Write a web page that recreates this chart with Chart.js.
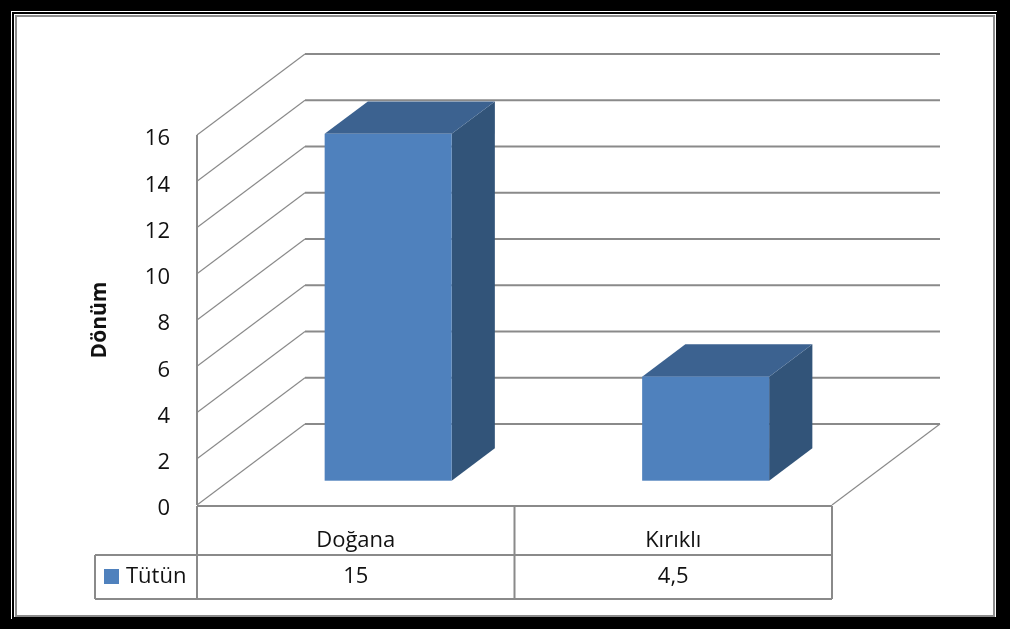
<!DOCTYPE html>
<html>
<head>
<meta charset="utf-8">
<title>Tütün</title>
<style>
  html, body { margin: 0; padding: 0; background: #000; }
  #wrap { width: 1010px; height: 629px; }
</style>
<script src="https://cdn.jsdelivr.net/npm/chart.js@4.4.0/dist/chart.umd.min.js"></script>
</head>
<body>
<div id="wrap"><canvas id="chart" width="1010" height="629"></canvas></div>
<script>
// data
const categories = ["Doğana", "Kırıklı"];
const seriesName = "Tütün";
const tutun = [15, 4.5];
const yTicks = [0, 2, 4, 6, 8, 10, 12, 14, 16];
const yTitle = "Dönüm";

// 3d look
const DEPTH_X = 108, DEPTH_Y = -81;   // full depth of the floor
const BAR_FRONT = 0.30, BAR_BACK = 0.70;
const GRID = "#8a8a8a";
const FONT = "'Open Sans', 'Liberation Sans', sans-serif";

const fmt = v => String(v).replace(".", ",");

const frame = {
  id: "frame",
  beforeDraw(chart) {
    const ctx = chart.ctx, W = chart.width, H = chart.height;
    ctx.save();
    ctx.fillStyle = "#000";
    ctx.fillRect(0, 0, W, H);
    ctx.fillStyle = "#fff";
    ctx.fillRect(11, 11, W - 24, H - 21);
    ctx.strokeStyle = "#000";
    ctx.lineWidth = 2;
    ctx.strokeRect(13, 13, W - 26, H - 24);
    ctx.strokeStyle = "#8c8c8c";
    ctx.strokeRect(16, 16, W - 32, H - 29);
    ctx.restore();
  }
};

const walls = {
  id: "walls",
  beforeDatasetsDraw(chart) {
    const ctx = chart.ctx, y = chart.scales.y, x = chart.scales.x;
    const L = x.left, R = x.right;
    ctx.save();
    ctx.strokeStyle = GRID;
    yTicks.forEach(v => {
      const py = y.getPixelForValue(v);
      ctx.lineWidth = 1.2;
      ctx.beginPath();
      ctx.moveTo(L, py);
      ctx.lineTo(L + DEPTH_X, py + DEPTH_Y);
      ctx.stroke();
      ctx.lineWidth = 2;
      ctx.beginPath();
      ctx.moveTo(L + DEPTH_X, py + DEPTH_Y);
      ctx.lineTo(R + DEPTH_X, py + DEPTH_Y);
      ctx.stroke();
    });
    // floor right edge
    const p0 = y.getPixelForValue(0);
    ctx.lineWidth = 1.2;
    ctx.beginPath();
    ctx.moveTo(R, p0);
    ctx.lineTo(R + DEPTH_X, p0 + DEPTH_Y);
    ctx.stroke();
    // front vertical axis
    ctx.lineWidth = 2;
    ctx.beginPath();
    ctx.moveTo(L, y.getPixelForValue(16));
    ctx.lineTo(L, p0);
    ctx.stroke();
    ctx.restore();
  },
  afterDatasetsDraw(chart) {
    const ctx = chart.ctx;
    const meta = chart.getDatasetMeta(0);
    const fx = BAR_FRONT * DEPTH_X, fy = BAR_FRONT * DEPTH_Y;
    const dx = (BAR_BACK - BAR_FRONT) * DEPTH_X, dy = (BAR_BACK - BAR_FRONT) * DEPTH_Y;
    ctx.save();
    meta.data.forEach(el => {
      const l = el.x - el.width / 2 + fx, r = el.x + el.width / 2 + fx;
      const t = el.y + fy, b = el.base + fy;
      // side
      ctx.fillStyle = "#325479";
      ctx.beginPath();
      ctx.moveTo(r, t); ctx.lineTo(r + dx, t + dy); ctx.lineTo(r + dx, b + dy); ctx.lineTo(r, b);
      ctx.closePath(); ctx.fill();
      // top
      ctx.fillStyle = "#3c6290";
      ctx.beginPath();
      ctx.moveTo(l, t); ctx.lineTo(r, t); ctx.lineTo(r + dx, t + dy); ctx.lineTo(l + dx, t + dy);
      ctx.closePath(); ctx.fill();
      // front
      ctx.fillStyle = "#4f81bd";
      ctx.fillRect(l, t, r - l, b - t);
    });
    ctx.restore();
  }
};

const dataTable = {
  id: "dataTable",
  afterDraw(chart) {
    const ctx = chart.ctx, x = chart.scales.x, y = chart.scales.y;
    const top = y.getPixelForValue(0) + 1;
    const mid = top + 49, bot = mid + 44, legL = 95;
    const cw = (x.right - x.left) / categories.length;
    ctx.save();
    ctx.strokeStyle = GRID;
    ctx.lineWidth = 2;
    ctx.beginPath();
    ctx.moveTo(x.left, top); ctx.lineTo(x.right, top);
    ctx.moveTo(legL, mid); ctx.lineTo(x.right, mid);
    ctx.moveTo(legL, bot); ctx.lineTo(x.right, bot);
    ctx.moveTo(legL, mid); ctx.lineTo(legL, bot);
    for (let i = 0; i <= categories.length; i++) {
      const px = x.left + i * cw;
      ctx.moveTo(px, top); ctx.lineTo(px, bot);
    }
    ctx.stroke();

    ctx.fillStyle = "#111";
    ctx.font = "22px " + FONT;
    ctx.textAlign = "center";
    ctx.textBaseline = "middle";
    categories.forEach((c, i) => {
      const cx = x.getPixelForValue(i);
      ctx.fillText(c, cx, top + 35);
      ctx.fillText(fmt(tutun[i]), cx, mid + 22);
    });
    // legend key
    ctx.fillStyle = "#4f81bd";
    ctx.fillRect(104, mid + 14, 15, 15);
    ctx.fillStyle = "#111";
    ctx.textAlign = "left";
    ctx.fillText(seriesName, 126, mid + 22);
    ctx.restore();
  }
};

new Chart(document.getElementById("chart"), {
  type: "bar",
  data: {
    labels: categories,
    datasets: [{
      label: seriesName,
      data: tutun,
      backgroundColor: "rgba(0,0,0,0)",
      categoryPercentage: 1,
      barPercentage: 0.4
    }]
  },
  options: {
    responsive: false,
    animation: false,
    devicePixelRatio: 1,
    layout: { padding: { top: 135, right: 178, bottom: 124, left: 83 } },
    plugins: { legend: { display: false }, tooltip: { enabled: false } },
    scales: {
      x: { display: false },
      y: {
        min: 0, max: 16,
        afterFit: s => { s.width = 114; },
        afterBuildTicks: s => { s.ticks = yTicks.map(v => ({ value: v })); },
        grid: { display: false, drawTicks: false },
        border: { display: false },
        ticks: { padding: 27, labelOffset: 4, color: "#111", font: { family: FONT, size: 22 } },
        title: { display: true, text: yTitle, color: "#111", font: { family: FONT, size: 21, weight: "bold" } }
      }
    }
  },
  plugins: [frame, walls, dataTable]
});
</script>
</body>
</html>
